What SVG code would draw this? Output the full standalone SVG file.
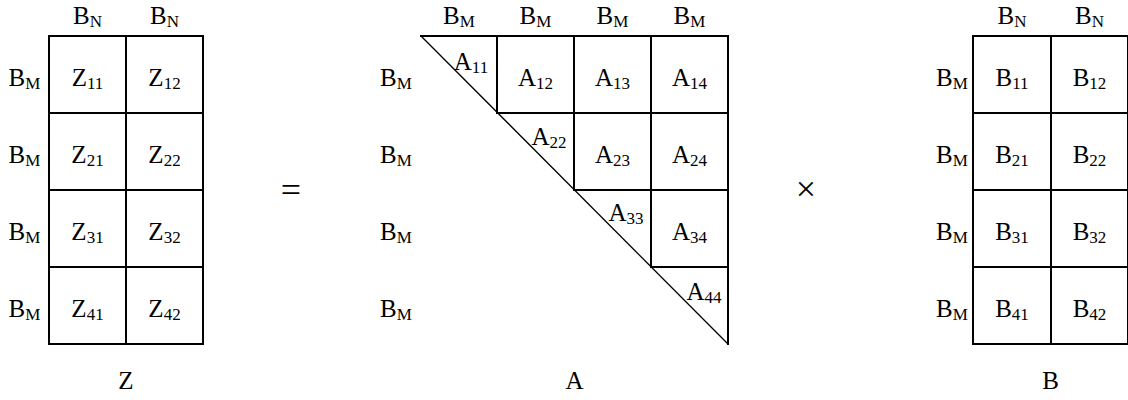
<svg xmlns="http://www.w3.org/2000/svg" width="1128" height="400" viewBox="0 0 1128 400">
<style>
.g{stroke:#000;stroke-width:2;fill:none;stroke-linecap:square}
.d{stroke:#000;stroke-width:1.3;fill:none}
text{font-family:"Liberation Serif","Times New Roman",serif;font-size:25px;fill:#000;text-anchor:middle}
.s{font-size:17px}
.op{font-size:36px}
</style>
<rect width="1128" height="400" fill="#fff"/>
<g id="Z">
<rect class="g" x="49" y="36" width="154" height="308"/>
<path class="g" d="M126 36V344M49 113H203M49 190H203M49 267H203"/>
<text x="87.5" y="24">B<tspan class="s" dy="3">N</tspan></text>
<text x="164.5" y="24">B<tspan class="s" dy="3">N</tspan></text>
<text x="24.5" y="86">B<tspan class="s" dy="3">M</tspan></text>
<text x="24.5" y="163">B<tspan class="s" dy="3">M</tspan></text>
<text x="24.5" y="240">B<tspan class="s" dy="3">M</tspan></text>
<text x="24.5" y="317">B<tspan class="s" dy="3">M</tspan></text>
<text x="87.5" y="86">Z<tspan class="s" dy="3">11</tspan></text>
<text x="164.5" y="86">Z<tspan class="s" dy="3">12</tspan></text>
<text x="87.5" y="163">Z<tspan class="s" dy="3">21</tspan></text>
<text x="164.5" y="163">Z<tspan class="s" dy="3">22</tspan></text>
<text x="87.5" y="240">Z<tspan class="s" dy="3">31</tspan></text>
<text x="164.5" y="240">Z<tspan class="s" dy="3">32</tspan></text>
<text x="87.5" y="317">Z<tspan class="s" dy="3">41</tspan></text>
<text x="164.5" y="317">Z<tspan class="s" dy="3">42</tspan></text>
<text x="126" y="389">Z</text>
</g>
<g id="equals"><text class="op" x="291" y="202">=</text></g>
<g id="A">
<path class="g" d="M421 36H728V344M497 36V113H728M574 36V190H728M651 36V267H728"/>
<path class="d" d="M421 36L728 344"/>
<text x="459" y="24">B<tspan class="s" dy="3">M</tspan></text>
<text x="535.5" y="24">B<tspan class="s" dy="3">M</tspan></text>
<text x="612.5" y="24">B<tspan class="s" dy="3">M</tspan></text>
<text x="689.5" y="24">B<tspan class="s" dy="3">M</tspan></text>
<text x="396" y="86">B<tspan class="s" dy="3">M</tspan></text>
<text x="396" y="163">B<tspan class="s" dy="3">M</tspan></text>
<text x="396" y="240">B<tspan class="s" dy="3">M</tspan></text>
<text x="396" y="317">B<tspan class="s" dy="3">M</tspan></text>
<text x="471" y="70">A<tspan class="s" dy="3">11</tspan></text>
<text x="535.5" y="86">A<tspan class="s" dy="3">12</tspan></text>
<text x="612.5" y="86">A<tspan class="s" dy="3">13</tspan></text>
<text x="689.5" y="86">A<tspan class="s" dy="3">14</tspan></text>
<text x="549" y="145">A<tspan class="s" dy="3">22</tspan></text>
<text x="612.5" y="163">A<tspan class="s" dy="3">23</tspan></text>
<text x="689.5" y="163">A<tspan class="s" dy="3">24</tspan></text>
<text x="626" y="221">A<tspan class="s" dy="3">33</tspan></text>
<text x="689.5" y="240">A<tspan class="s" dy="3">34</tspan></text>
<text x="704" y="300">A<tspan class="s" dy="3">44</tspan></text>
<text x="574.5" y="389">A</text>
</g>
<g id="times"><text class="op" x="806" y="201">×</text></g>
<g id="B">
<rect class="g" x="973" y="36" width="155" height="308"/>
<path class="g" d="M1051 36V344M973 113H1128M973 190H1128M973 267H1128"/>
<text x="1012" y="24">B<tspan class="s" dy="3">N</tspan></text>
<text x="1089.5" y="24">B<tspan class="s" dy="3">N</tspan></text>
<text x="952" y="86">B<tspan class="s" dy="3">M</tspan></text>
<text x="952" y="163">B<tspan class="s" dy="3">M</tspan></text>
<text x="952" y="240">B<tspan class="s" dy="3">M</tspan></text>
<text x="952" y="317">B<tspan class="s" dy="3">M</tspan></text>
<text x="1012" y="86">B<tspan class="s" dy="3">11</tspan></text>
<text x="1089.5" y="86">B<tspan class="s" dy="3">12</tspan></text>
<text x="1012" y="163">B<tspan class="s" dy="3">21</tspan></text>
<text x="1089.5" y="163">B<tspan class="s" dy="3">22</tspan></text>
<text x="1012" y="240">B<tspan class="s" dy="3">31</tspan></text>
<text x="1089.5" y="240">B<tspan class="s" dy="3">32</tspan></text>
<text x="1012" y="317">B<tspan class="s" dy="3">41</tspan></text>
<text x="1089.5" y="317">B<tspan class="s" dy="3">42</tspan></text>
<text x="1050.5" y="389">B</text>
</g>
</svg>
